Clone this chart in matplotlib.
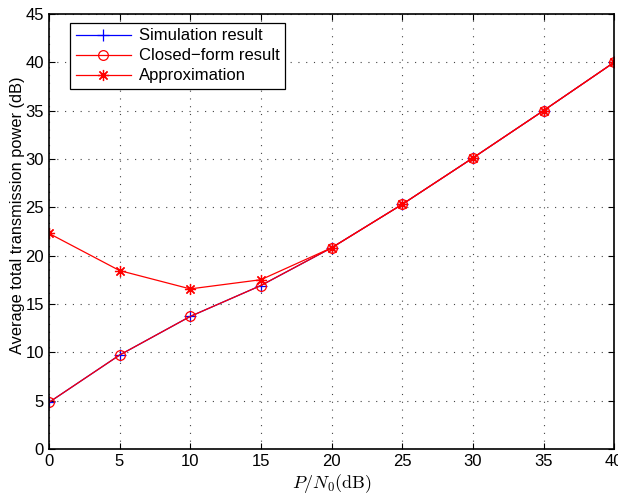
import matplotlib
matplotlib.use("Agg")
import matplotlib.pyplot as plt

snr = [0, 5, 10, 15, 20, 25, 30, 35, 40]
simulation = [4.8, 9.7, 13.7, 16.9, 20.8, 25.3, 30.1, 35.0, 40.0]
closed_form = [4.8, 9.7, 13.7, 16.9, 20.8, 25.3, 30.1, 35.0, 40.0]
approximation = [22.3, 18.45, 16.55, 17.5, 20.8, 25.3, 30.1, 35.0, 40.0]

plt.rcParams['font.family'] = ['Liberation Sans', 'DejaVu Sans']
plt.rcParams['mathtext.fontset'] = 'cm'

fig = plt.figure(figsize=(6.18, 4.96), dpi=100)
ax = fig.add_axes([0.079, 0.095, 0.915, 0.877])

ax.plot(snr, simulation, color='blue', marker='+', markersize=8, markeredgewidth=0.9,
        linewidth=0.9, label='Simulation result')
ax.plot(snr, closed_form, color='red', marker='o', markersize=7, markerfacecolor='none',
        markeredgewidth=0.9, linewidth=0.9, label='Closed\u2212form result')
ax.plot(snr, approximation, color='red', marker=(8, 2, 0), markersize=8,
        markeredgewidth=0.9, linewidth=0.9, label='Approximation')

ax.set_xlim(0, 40)
ax.set_ylim(0, 45)
ax.set_xticks(range(0, 41, 5))
ax.set_yticks(range(0, 46, 5))
ax.grid(True, linestyle=(0, (1, 6)), color='#444444', linewidth=0.8)
ax.tick_params(direction='in', top=True, right=True, labelsize=12, length=4, width=0.8)
for s in ax.spines.values():
    s.set_linewidth(1.2)

ax.set_xlabel(r'$P/N_0(\mathrm{dB})$', fontsize=13, labelpad=2)
ax.set_ylabel('Average total transmission power (dB)', fontsize=11.8)
ax.yaxis.set_label_coords(-0.043, 0.538)

leg = ax.legend(loc='upper left', bbox_to_anchor=(0.037, 0.98), borderaxespad=0,
                fontsize=12, fancybox=False, framealpha=1,
                edgecolor='black', handlelength=3.3,
                labelspacing=0.3, borderpad=0.35, handletextpad=0.5)
leg.get_frame().set_linewidth(0.9)

fig.savefig('out.png', dpi=100)
